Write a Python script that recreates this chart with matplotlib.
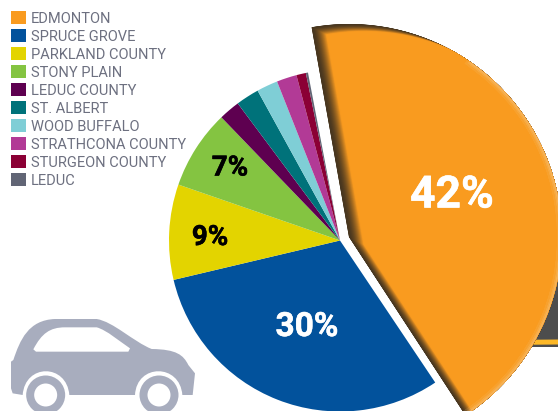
import numpy as np
import matplotlib
matplotlib.use("Agg")
import matplotlib.pyplot as plt
import matplotlib.patheffects as pe
from matplotlib.patches import Wedge, Circle, PathPatch, Polygon
from matplotlib.path import Path

# legend order, shares (angle of each slice)
cities = ["EDMONTON", "SPRUCE GROVE", "PARKLAND COUNTY", "STONY PLAIN", "LEDUC COUNTY",
          "ST. ALBERT", "WOOD BUFFALO", "STRATHCONA COUNTY", "STURGEON COUNTY", "LEDUC"]
shares = [43.6, 30.7, 9.0, 7.5, 2.0, 2.2, 2.0, 1.9, 0.9, 0.2]
colors = ["#f99b1f", "#02529c", "#e3d400", "#84c441", "#5e0050",
          "#00727a", "#7fced6", "#b23a96", "#8b0035", "#616575"]
shown = ["42%", "30%", "9%", "7%"]

CX, CY = 340, 411 - 240.5
R = 171

fig = plt.figure(figsize=(5.58, 4.11), dpi=100)
ax = fig.add_axes([0, 0, 1, 1])

wedges, _ = ax.pie(shares, colors=colors, startangle=100.8, counterclock=False,
                   center=(CX, CY), radius=R, frame=False)
ax.set_xlim(0, 558)
ax.set_ylim(0, 411)
ax.set_aspect("equal")
ax.axis("off")

# the dark box sticking out behind the big slice
ax.add_patch(Polygon([[500, 411-270], [558, 411-270], [558, 411-347], [500, 411-347]],
                     fc="#4d4d4d", ec="none", zorder=0.5))
ax.add_patch(Polygon([[500, 411-340], [558, 411-339.5], [558, 411-344.5], [500, 411-345]],
                     fc="#fdb827", ec="none", zorder=0.6))

# pull Edmonton out and make it bigger, inner shadow with stacked shifted copies
big = wedges[0]
t1, t2 = big.theta1 - 0.7, big.theta2 - 0.7
VX, VY, BR = 349, 411 - 237, 213
big.set_visible(False)
clip = Wedge((VX, VY), BR, t1, t2, fc="none", ec="none", transform=ax.transData)
ax.add_patch(clip)
ax.add_patch(Wedge((VX, VY), BR, t1, t2, fc="#47361f", ec="none", zorder=2))
dark = np.array(matplotlib.colors.to_rgb("#47361f"))
orange = np.array(matplotlib.colors.to_rgb(colors[0]))
steps = 28
for i in range(steps + 1):
    f = i / steps
    c = dark + (orange - dark) * f ** 1.8
    w = Wedge((VX + 15 * f, VY - 7.5 * f), BR, t1, t2, fc=c, ec=c, lw=0.5, zorder=3)
    ax.add_patch(w)
    w.set_clip_path(clip)
# light rim on the right side
for lw, a in [(7, 0.12), (4, 0.18), (2, 0.25)]:
    arc = Wedge((VX, VY), BR, t1, 55, width=0.01, fc="none", ec="#f6cf9a",
                lw=lw, alpha=a, zorder=4)
    ax.add_patch(arc)
    arc.set_clip_path(clip)

# percent labels
label_font = ["Roboto"]
spots = [(452, 195.5, 32, "white"), (307, 327, 24, "white"), (210, 237.5, 20, "black"), (230, 168, 20, "black")]
for s, (x, y, size, col) in zip(shown, spots):
    ax.text(x, 411 - y, s, color=col, fontsize=size, fontweight="bold", family=label_font,
            ha="center", va="center", zorder=5,
            path_effects=[pe.withStroke(linewidth=0.4, foreground=col)])

# legend
leg = ax.legend(wedges, cities, loc="upper left", bbox_to_anchor=(11 / 558, 1 - 11 / 411),
                frameon=False, borderpad=0, borderaxespad=0, handlelength=1.0, handleheight=1.0,
                handletextpad=0.38, labelspacing=0.24,
                prop={"family": label_font, "size": 10.5})
for t in leg.get_texts():
    t.set_color("#6d7080")
for h in leg.legend_handles:
    h.set_visible(True)

# car icon, zoom coordinates of the outline
def cz(x, y):
    return (x / 3, 411 - (300 + y / 3))

car_col = "#a8adbe"
body = [(Path.MOVETO, (33, 185)), (Path.LINETO, (40, 180)), (Path.CURVE4, (60, 120)), (Path.CURVE4, (85, 60)), (Path.CURVE4, (165, 57)),
        (Path.LINETO, (290, 57)), (Path.CURVE4, (340, 65)), (Path.CURVE4, (400, 125)), (Path.CURVE4, (455, 147)),
        (Path.CURVE4, (530, 148)), (Path.CURVE4, (550, 165)), (Path.CURVE4, (565, 195)),
        (Path.LINETO, (585, 220)), (Path.LINETO, (578, 285)), (Path.LINETO, (547, 285)),
        (Path.CURVE4, (540, 190)), (Path.CURVE4, (410, 190)), (Path.CURVE4, (405, 285)),
        (Path.LINETO, (208, 285)), (Path.CURVE4, (200, 190)), (Path.CURVE4, (75, 190)), (Path.CURVE4, (68, 285)),
        (Path.LINETO, (38, 280)), (Path.LINETO, (33, 265)), (Path.CLOSEPOLY, (33, 185))]
window = [(Path.MOVETO, (100, 148)), (Path.CURVE4, (125, 100)), (Path.CURVE4, (150, 82)), (Path.CURVE4, (195, 82)),
          (Path.LINETO, (290, 82)), (Path.CURVE4, (320, 90)), (Path.CURVE4, (360, 125)), (Path.CURVE4, (390, 145)),
          (Path.LINETO, (385, 155)), (Path.LINETO, (108, 155)), (Path.CLOSEPOLY, (100, 148))]
ax.add_patch(PathPatch(Path([cz(*p) for _, p in body], [c for c, _ in body]), fc=car_col, ec="none", zorder=2))
ax.add_patch(PathPatch(Path([cz(*p) for _, p in window], [c for c, _ in window]), fc="white", ec="none", zorder=2.1))
for wx in (137, 477):
    ax.add_patch(Circle(cz(wx, 285), 19.5, fc=car_col, ec="none", zorder=2))
    ax.add_patch(Circle(cz(wx, 285), 11.5, fc="white", ec="none", zorder=2.1))

fig.savefig("out.png", dpi=100)
